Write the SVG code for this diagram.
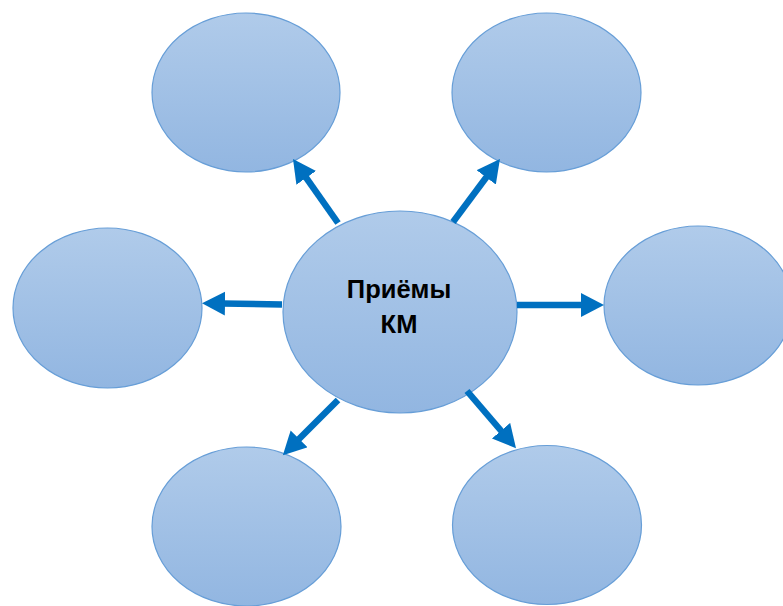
<svg xmlns="http://www.w3.org/2000/svg" width="783" height="606" viewBox="0 0 783 606">
<style>
.node{fill:url(#g);stroke:#679ED7;stroke-width:1.2}
.conn{stroke:#0070C0;stroke-width:6.5;fill:none;marker-end:url(#ah)}
.lbl{font-family:"Liberation Sans",Arial,sans-serif;font-size:25.5px;font-weight:bold;fill:#000;text-anchor:middle}
</style>
<defs>
<linearGradient id="g" x1="0" y1="0" x2="0" y2="1">
<stop offset="0" stop-color="#B0CBEA"/>
<stop offset="1" stop-color="#92B6E1"/>
</linearGradient>
<marker id="ah" markerUnits="userSpaceOnUse" markerWidth="24" markerHeight="25" refX="3" refY="12" orient="auto" viewBox="0 0 24 25">
<path d="M0,0 L23,12 L0,24 z" fill="#0070C0"/>
</marker>
</defs>
<rect width="783" height="606" fill="#fff"/>
<g id="center"><ellipse class="node" cx="400" cy="312" rx="117" ry="101"/>
<text class="lbl" x="399" y="298">Приёмы</text>
<text class="lbl" x="399" y="333">КМ</text></g>
<g id="n-top-left"><ellipse class="node" cx="246" cy="92.5" rx="94" ry="79.5"/></g>
<g id="n-top-right"><ellipse class="node" cx="546.5" cy="92.5" rx="94.5" ry="79.5"/></g>
<g id="n-left"><ellipse class="node" cx="107.5" cy="308" rx="94.5" ry="80"/></g>
<g id="n-right"><ellipse class="node" cx="698" cy="305.5" rx="94" ry="79.5"/></g>
<g id="n-bottom-left"><ellipse class="node" cx="246.5" cy="526.5" rx="94.5" ry="79.5"/></g>
<g id="n-bottom-right"><ellipse class="node" cx="547" cy="525" rx="94.5" ry="79.5"/></g>
<g id="connectors">
<line class="conn" x1="338" y1="223" x2="304.5" y2="175.4"/>
<line class="conn" x1="453" y1="222" x2="488" y2="175"/>
<line class="conn" x1="282" y1="304.5" x2="222" y2="303.5"/>
<line class="conn" x1="517" y1="305" x2="584" y2="305"/>
<line class="conn" x1="338" y1="400" x2="297" y2="441"/>
<line class="conn" x1="467" y1="391" x2="503" y2="433"/>
</g>
</svg>
